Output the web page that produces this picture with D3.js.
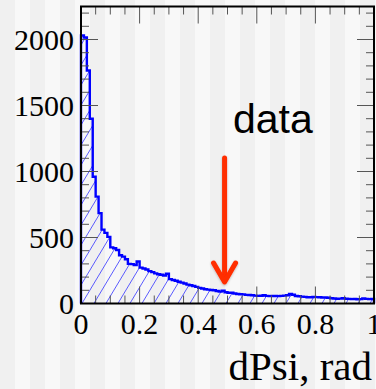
<!DOCTYPE html>
<html>
<head>
<meta charset="utf-8">
<script src="https://cdn.jsdelivr.net/npm/d3@7"></script>
<style>
  html, body { margin: 0; padding: 0; background: #f4f4f4; }
  svg { display: block; }
</style>
</head>
<body>
<svg id="chart" width="376" height="389"></svg>
<script>
// dPsi histogram: 100 bins of 0.01 rad between 0 and 1
const binLow = 0;
const binHigh = 1;
const counts = [
  2030, 2015, 1765, 1400, 960, 810, 685, 560, 535, 505,
  425, 418, 405, 365, 355, 335, 300, 298, 292, 318,
  272, 265, 258, 245, 238, 228, 222, 218, 212, 225,
  185, 178, 172, 165, 158, 152, 143, 138, 133, 126,
  118, 114, 108, 105, 102, 100, 95, 90, 97, 85,
  82, 82, 76, 72, 70, 69, 65, 64, 62, 60,
  58, 59, 62, 58, 56, 57, 57, 56, 58, 60,
  63, 72, 66, 57, 55, 52, 50, 47, 47, 50,
  48, 47, 45, 46, 44, 40, 38, 36, 37, 40,
  36, 35, 33, 34, 32, 33, 38, 35, 33, 34
];
const xTicks = [0, 0.2, 0.4, 0.6, 0.8, 1];
const xTickLabels = ["0", "0.2", "0.4", "0.6", "0.8", "1"];
const yTicks = [0, 500, 1000, 1500, 2000];
const yTickLabels = ["0", "500", "1000", "1500", "2000"];
const xMinorStep = 0.05;
const yMinorStep = 100;
const yMax = 2250;
const axisTitle = "dPsi, rad";
const annotation = "data";
const arrowAt = 0.49; // dPsi value marked by the arrow

const W = 376, H = 389;
const plot = { left: 81, right: 374, top: 6.5, bottom: 303.5 };

const svg = d3.select("#chart");
const defs = svg.append("defs");

// striped backdrop
const stripe = defs.append("pattern")
  .attr("id", "stripes").attr("patternUnits", "userSpaceOnUse")
  .attr("width", 30).attr("height", 10);
stripe.append("rect").attr("width", 15).attr("height", 10).attr("fill", "#f0f0f0");
stripe.append("rect").attr("x", 15).attr("width", 15).attr("height", 10).attr("fill", "#f8f8f8");
svg.append("rect").attr("width", W).attr("height", H).attr("fill", "url(#stripes)");

// diagonal hatching for the histogram body
const hatch = defs.append("pattern")
  .attr("id", "hatch").attr("patternUnits", "userSpaceOnUse")
  .attr("width", 12).attr("height", 20);
hatch.append("path")
  .attr("d", "M-6,30 L12,0 M6,30 L24,0 M-18,30 L0,0")
  .attr("stroke", "#4a4aff").attr("stroke-width", 0.9).attr("fill", "none");

const x = d3.scaleLinear().domain([binLow, binHigh]).range([plot.left, plot.right]);
const y = d3.scaleLinear().domain([0, yMax]).range([plot.bottom, plot.top]);

const binWidth = (binHigh - binLow) / counts.length;
const pts = counts.map((c, i) => [binLow + i * binWidth, c]);
pts.push([binHigh, counts[counts.length - 1]]);

const area = d3.area()
  .curve(d3.curveStepAfter)
  .x(d => x(d[0])).y0(y(0)).y1(d => y(d[1]));
svg.append("path").datum(pts).attr("d", area).attr("fill", "url(#hatch)");

const outlinePts = [[binLow, 0], ...pts, [binHigh, 0]];
const line = d3.line().curve(d3.curveStepAfter).x(d => x(d[0])).y(d => y(d[1]));
svg.append("path").datum(outlinePts).attr("d", line)
  .attr("fill", "none").attr("stroke", "#0000ff").attr("stroke-width", 2.4)
  .attr("stroke-linejoin", "miter");

// ticks on all four sides
const tickColor = "#555";
const g = svg.append("g").attr("stroke", tickColor).attr("stroke-width", 1);
const xMinor = d3.range(0, Math.round((binHigh - binLow) / xMinorStep) + 1).map(k => binLow + k * xMinorStep);
xMinor.forEach(v => {
  const major = xTicks.some(t => Math.abs(t - v) < 1e-9);
  const len = major ? 17 : 8;
  g.append("line").attr("x1", x(v)).attr("x2", x(v)).attr("y1", plot.bottom).attr("y2", plot.bottom - len);
  g.append("line").attr("x1", x(v)).attr("x2", x(v)).attr("y1", plot.top).attr("y2", plot.top + len);
});
const yMinor = d3.range(0, Math.floor(yMax / yMinorStep) + 1).map(k => k * yMinorStep);
yMinor.forEach(v => {
  const major = yTicks.includes(v);
  const len = major ? 17 : 8;
  g.append("line").attr("y1", y(v)).attr("y2", y(v)).attr("x1", plot.left).attr("x2", plot.left + len);
  g.append("line").attr("y1", y(v)).attr("y2", y(v)).attr("x1", plot.right).attr("x2", plot.right - len);
});

// frame
svg.append("rect")
  .attr("x", plot.left).attr("y", plot.top)
  .attr("width", plot.right - plot.left).attr("height", plot.bottom - plot.top)
  .attr("fill", "none").attr("stroke", "#000").attr("stroke-width", 2);

// tick labels
const serif = "'Liberation Serif', 'DejaVu Serif', serif";
svg.append("g").selectAll("text").data(xTicks).join("text")
  .attr("x", d => x(d)).attr("y", 334)
  .attr("text-anchor", "middle")
  .attr("font-family", serif).attr("font-size", 30).attr("fill", "#000")
  .text((d, i) => xTickLabels[i]);
svg.append("g").selectAll("text").data(yTicks).join("text")
  .attr("x", 74).attr("y", d => y(d) + 10)
  .attr("text-anchor", "end")
  .attr("font-family", serif).attr("font-size", 30).attr("fill", "#000")
  .text((d, i) => yTickLabels[i]);

svg.append("text")
  .attr("x", 372).attr("y", 380).attr("text-anchor", "end")
  .attr("font-family", serif).attr("font-size", 41).attr("fill", "#000")
  .text(axisTitle);

svg.append("text")
  .attr("x", 233).attr("y", 133)
  .attr("font-family", "'Liberation Sans', Arial, sans-serif").attr("font-size", 41).attr("fill", "#000")
  .text(annotation);

// red arrow pointing at the data
const shadow = defs.append("filter").attr("id", "soft").attr("x", "-50%").attr("y", "-20%").attr("width", "200%").attr("height", "140%");
shadow.append("feDropShadow").attr("dx", 0).attr("dy", 1).attr("stdDeviation", 1.2).attr("flood-color", "#000").attr("flood-opacity", 0.25);
const ax = x(arrowAt);
const arrow = svg.append("g").attr("stroke", "#ff2d00").attr("stroke-width", 5)
  .attr("stroke-linecap", "round").attr("stroke-linejoin", "round").attr("fill", "none")
  .attr("filter", "url(#soft)");
arrow.append("line").attr("x1", ax).attr("x2", ax).attr("y1", 158).attr("y2", 281);
arrow.append("path").attr("d", `M${ax - 11},${263} L${ax},${282} L${ax + 11},${263}`);
</script>
</body>
</html>
